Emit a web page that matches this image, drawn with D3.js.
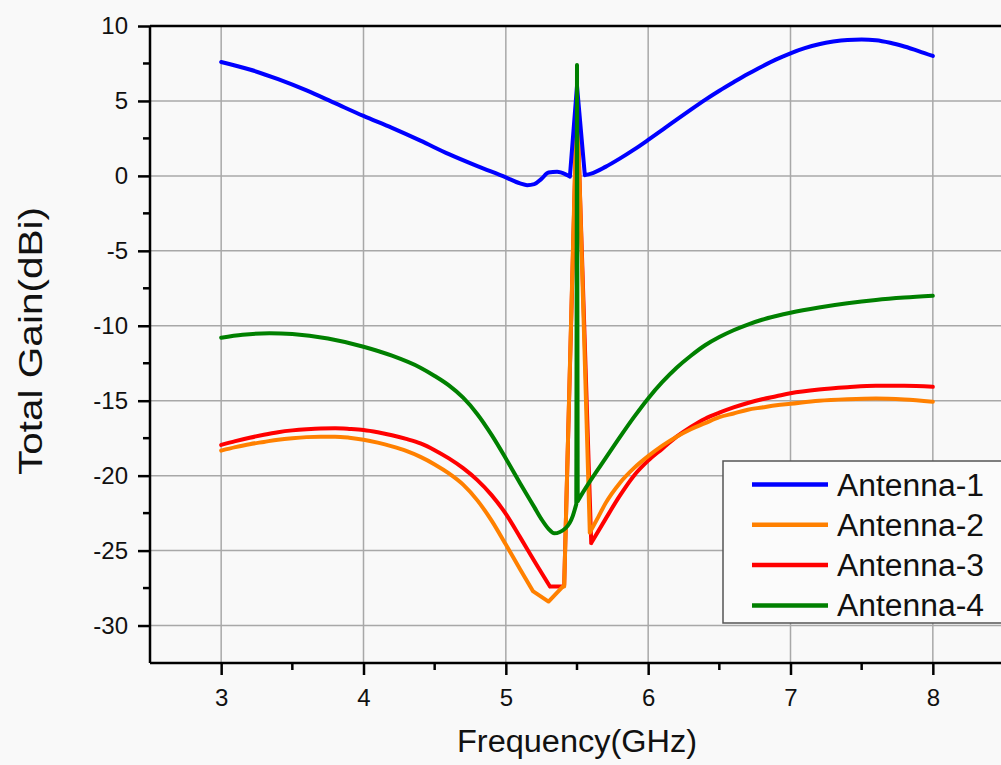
<!DOCTYPE html>
<html>
<head>
<meta charset="utf-8">
<script src="https://cdn.jsdelivr.net/npm/d3@7/dist/d3.min.js"></script>
<style>
  html, body { margin: 0; padding: 0; background: #f9f9f9; }
  svg { display: block; }
  text { font-family: "Liberation Sans", Arial, sans-serif; fill: #111; }
</style>
</head>
<body>
<svg id="chart" width="1001" height="765"></svg>
<script>
// ---------------- data ----------------
const seriesNames = ["Antenna-1", "Antenna-2", "Antenna-3", "Antenna-4"];
const seriesColors = ["#0000ff", "#ff8000", "#ff0000", "#008000"];

const xTicks = [3, 4, 5, 6, 7, 8];
const yTicks = [-30, -25, -20, -15, -10, -5, 0, 5, 10];

const freq1 = [3.0, 3.2, 3.4, 3.6, 3.8, 4.0, 4.2, 4.4, 4.6, 4.8, 5.0, 5.1, 5.15, 5.2, 5.25, 5.3, 5.36, 5.42, 5.45, 5.5, 5.555, 5.6, 5.7, 5.8, 5.9, 6.0, 6.1, 6.2, 6.3, 6.4, 6.5, 6.6, 6.7, 6.8, 6.9, 7.0, 7.1, 7.2, 7.3, 7.4, 7.5, 7.6, 7.7, 7.8, 7.9, 8.0];
const gain1 = [7.6, 7.1, 6.45, 5.7, 4.85, 4.0, 3.2, 2.35, 1.45, 0.65, -0.1, -0.5, -0.62, -0.55, -0.2, 0.22, 0.27, 0.1, -0.05, 6.0, 0.05, 0.15, 0.6, 1.15, 1.75, 2.4, 3.07, 3.75, 4.42, 5.07, 5.68, 6.25, 6.8, 7.3, 7.77, 8.18, 8.52, 8.78, 8.96, 9.07, 9.1, 9.05, 8.88, 8.63, 8.33, 8.0];

const freq2 = [3.0, 3.1, 3.2, 3.3, 3.4, 3.5, 3.6, 3.7, 3.8, 3.9, 4.0, 4.1, 4.2, 4.3, 4.4, 4.5, 4.6, 4.7, 4.8, 4.9, 5.0, 5.1, 5.19, 5.3, 5.4, 5.41, 5.5, 5.59, 5.65, 5.7, 5.8, 5.9, 6.0, 6.1, 6.2, 6.3, 6.4, 6.5, 6.6, 6.7, 6.8, 6.9, 7.0, 7.2, 7.4, 7.6, 7.8, 8.0];
const gain2 = [-18.33, -18.1, -17.9, -17.75, -17.6, -17.5, -17.43, -17.4, -17.4, -17.47, -17.6, -17.8, -18.05, -18.35, -18.75, -19.25, -19.85, -20.6, -21.65, -23.0, -24.6, -26.25, -27.7, -28.4, -27.4, -27.4, 5.5, -23.8, -22.75, -21.85, -20.5, -19.5, -18.7, -18.0, -17.4, -16.9, -16.5, -16.1, -15.85, -15.6, -15.45, -15.3, -15.2, -15.0, -14.9, -14.85, -14.92, -15.07];

const freq3 = [3.0, 3.1, 3.2, 3.3, 3.4, 3.5, 3.6, 3.7, 3.8, 3.9, 4.0, 4.1, 4.2, 4.3, 4.4, 4.5, 4.6, 4.7, 4.8, 4.9, 5.0, 5.1, 5.2, 5.31, 5.4, 5.41, 5.5, 5.6, 5.7, 5.8, 5.9, 6.0, 6.1, 6.2, 6.3, 6.4, 6.5, 6.6, 6.7, 6.8, 6.9, 7.0, 7.2, 7.4, 7.6, 7.8, 8.0];
const gain3 = [-17.95, -17.7, -17.47, -17.27, -17.1, -16.98, -16.9, -16.85, -16.84, -16.88, -16.95, -17.1, -17.3, -17.55, -17.85, -18.3, -18.85, -19.5, -20.3, -21.3, -22.55, -24.1, -25.7, -27.4, -27.4, -27.3, 5.0, -24.5, -22.9, -21.35, -20.0, -19.0, -18.2, -17.4, -16.75, -16.2, -15.8, -15.45, -15.15, -14.9, -14.7, -14.5, -14.25, -14.1, -14.0, -14.0, -14.07];

const freq4 = [3.0, 3.15, 3.34, 3.5, 3.75, 4.0, 4.2, 4.4, 4.5, 4.6, 4.7, 4.8, 4.9, 5.0, 5.1, 5.2, 5.25, 5.3, 5.34, 5.42, 5.47, 5.495, 5.5, 5.505, 5.53, 5.6, 5.7, 5.8, 5.9, 6.0, 6.1, 6.2, 6.3, 6.4, 6.5, 6.6, 6.7, 6.8, 6.9, 7.0, 7.2, 7.4, 7.6, 7.8, 8.0];
const gain4 = [-10.8, -10.6, -10.5, -10.55, -10.85, -11.4, -12.0, -12.8, -13.35, -13.98, -14.8, -15.9, -17.28, -18.85, -20.5, -22.1, -22.9, -23.55, -23.85, -23.5, -22.7, -21.9, 7.4, -21.7, -21.3, -20.25, -18.85, -17.45, -16.1, -14.85, -13.75, -12.8, -12.0, -11.3, -10.75, -10.3, -9.92, -9.6, -9.35, -9.13, -8.78, -8.5, -8.28, -8.12, -8.0];

// frequency span (GHz) of each series drawn with straight segments (the sharp notch/spike)
const sharpSpan1 = [5.45, 5.555];
const sharpSpan2 = [5.19, 5.59];
const sharpSpan3 = [5.31, 5.6];
const sharpSpan4 = [5.495, 5.505];

const xLabel = "Frequency(GHz)";
const yLabel = "Total Gain(dBi)";

// ---------------- layout ----------------
const svg = d3.select("#chart");
const L = 150, T = 26, R = 1004, B = 663;

const x = d3.scaleLinear().domain([2.5, 8.5]).range([L, R]);
const y = d3.scaleLinear().domain([-32.5, 10]).range([B, T]);

// grid
const grid = svg.append("g");
grid.selectAll("line.v").data(xTicks).join("line")
  .attr("x1", d => x(d)).attr("x2", d => x(d))
  .attr("y1", T).attr("y2", B)
  .attr("stroke", "#a8a8a8").attr("stroke-width", 1.5);
grid.selectAll("line.h").data(yTicks).join("line")
  .attr("x1", L).attr("x2", R)
  .attr("y1", d => y(d)).attr("y2", d => y(d))
  .attr("stroke", "#a8a8a8").attr("stroke-width", 1.5);

// top frame line
svg.append("line").attr("x1", L).attr("x2", R).attr("y1", T).attr("y2", T)
  .attr("stroke", "#000").attr("stroke-width", 2.5);

// axes
const xMinor = d3.range(3.5, 8.5, 1);
const yMinor = d3.range(-27.5, 10, 5);
const fmt = d => String(d);

const xAxis = svg.append("g").attr("transform", `translate(0,${B})`)
  .call(d3.axisBottom(x).tickValues(xTicks).tickFormat(fmt).tickSize(12).tickPadding(14));
xAxis.append("g").selectAll("line").data(xMinor).join("line")
  .attr("x1", d => x(d)).attr("x2", d => x(d)).attr("y1", 0).attr("y2", 7)
  .attr("stroke", "#000").attr("stroke-width", 2.5);

const yAxis = svg.append("g").attr("transform", `translate(${L},0)`)
  .call(d3.axisLeft(y).tickValues(yTicks).tickFormat(fmt).tickSize(12).tickPadding(10));
yAxis.append("g").selectAll("line").data(yMinor).join("line")
  .attr("x1", 0).attr("x2", -7).attr("y1", d => y(d)).attr("y2", d => y(d))
  .attr("stroke", "#000").attr("stroke-width", 2.5);

[xAxis, yAxis].forEach(a => {
  a.select(".domain").attr("stroke", "#000").attr("stroke-width", 2.5);
  a.selectAll(".tick line").attr("stroke", "#000").attr("stroke-width", 2.5);
  a.selectAll(".tick text").attr("font-size", 24).attr("fill", "#111")
    .attr("font-family", "'Liberation Sans', Arial, sans-serif");
});
xAxis.select(".domain").attr("d", `M${L},0H${R}`);
yAxis.select(".domain").attr("d", `M0,${B}V${T}`);

// lines: smooth runs (monotone) + straight segments across the sharp spans
const smooth = d3.line().x(d => x(d[0])).y(d => y(d[1])).curve(d3.curveMonotoneX);
const straight = d3.line().x(d => x(d[0])).y(d => y(d[1])).curve(d3.curveLinear);
function buildPath(f, g, span) {
  const pts = f.map((v, i) => [v, g[i]]);
  const before = pts.filter(p => p[0] <= span[0]);
  const mid = pts.filter(p => p[0] >= span[0] && p[0] <= span[1]);
  const after = pts.filter(p => p[0] >= span[1]);
  return smooth(before) + straight(mid) + smooth(after);
}
const series = [
  {name: seriesNames[0], color: seriesColors[0], f: freq1, g: gain1, s: sharpSpan1},
  {name: seriesNames[1], color: seriesColors[1], f: freq2, g: gain2, s: sharpSpan2},
  {name: seriesNames[2], color: seriesColors[2], f: freq3, g: gain3, s: sharpSpan3},
  {name: seriesNames[3], color: seriesColors[3], f: freq4, g: gain4, s: sharpSpan4}
];
const drawOrder = [2, 1, 0, 3];
svg.append("g").selectAll("path").data(drawOrder.map(i => series[i])).join("path")
  .attr("d", s => buildPath(s.f, s.g, s.s))
  .attr("fill", "none")
  .attr("stroke", s => s.color)
  .attr("stroke-width", 4)
  .attr("stroke-linejoin", "round")
  .attr("stroke-linecap", "round");

// legend
const lg = svg.append("g");
lg.append("rect").attr("x", 723).attr("y", 461).attr("width", 320).attr("height", 162)
  .attr("fill", "#fbfbfb").attr("stroke", "#555").attr("stroke-width", 1.5);
series.forEach((s, i) => {
  const yy = 484.5 + i * 40.3;
  lg.append("line").attr("x1", 752).attr("x2", 828).attr("y1", yy).attr("y2", yy)
    .attr("stroke", s.color).attr("stroke-width", 4.5);
  lg.append("text").attr("x", 837).attr("y", yy + 11).attr("font-size", 31)
    .attr("textLength", 147).attr("lengthAdjust", "spacingAndGlyphs")
    .text(s.name);
});

// axis titles
svg.append("text").attr("x", (L + R) / 2).attr("y", 752).attr("text-anchor", "middle")
  .attr("font-size", 31).attr("textLength", 240).attr("lengthAdjust", "spacingAndGlyphs")
  .text(xLabel);
svg.append("text").attr("transform", `translate(42,341) rotate(-90)`).attr("text-anchor", "middle")
  .attr("font-size", 34).attr("textLength", 268).attr("lengthAdjust", "spacingAndGlyphs")
  .text(yLabel);
</script>
</body>
</html>
